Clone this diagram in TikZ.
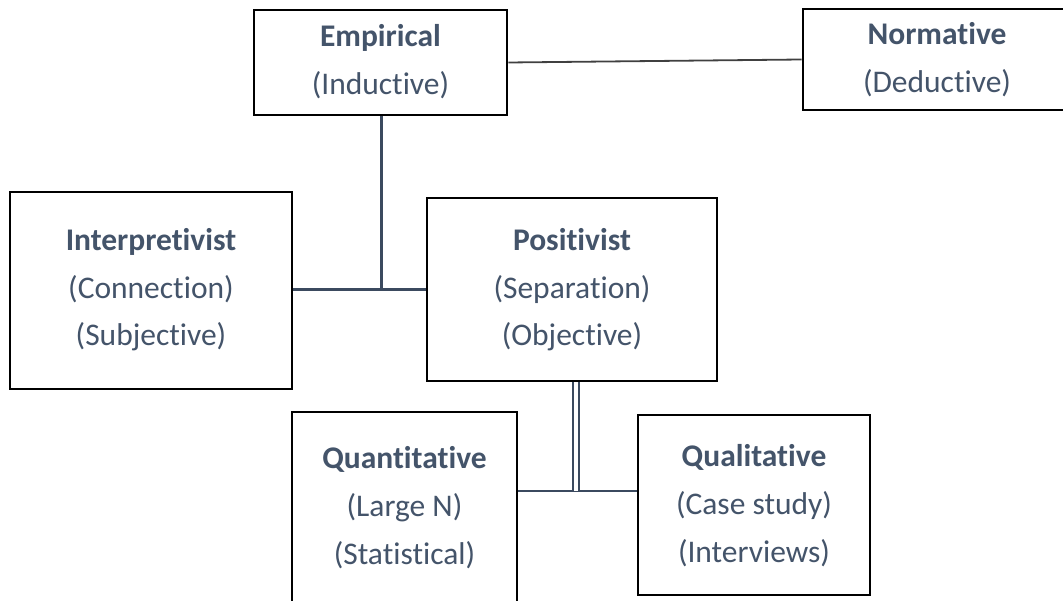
\documentclass[tikz,border=0pt]{standalone}
\usepackage{fontspec}
\setmainfont{Carlito}[Ligatures=NoCommon]
\definecolor{txt}{HTML}{44546A}
\definecolor{conn}{HTML}{3B4A5F}
\definecolor{thin}{HTML}{404040}
\begin{document}
\begin{tikzpicture}[x=1pt,y=-1pt,
  box/.style={draw=black,line width=2.8pt,fill=white,inner sep=0pt,minimum width=#1},
  hd/.style={anchor=base,text=txt,inner sep=0pt,font=\fontsize{31.5}{36}\selectfont\bfseries},
  sub/.style={anchor=base,text=txt,inner sep=0pt,font=\fontsize{31.5}{36}\selectfont},
  link/.style={draw=conn,line width=2.6pt},
  dbl/.style={draw=conn,line width=1.9pt,double=white,double distance=4.6pt}]
\useasboundingbox (0,0) rectangle (1063,601);
\clip (0,0) rectangle (1063,601);
% boxes
\node[box=253pt,minimum height=105pt] (emp) at (380.5,62.5) {};
\node[box=268pt,minimum height=101pt] (nor) at (937,59.5) {};
\node[box=282pt,minimum height=197pt] (int) at (151,290.5) {};
\node[box=290pt,minimum height=183pt] (pos) at (572,289.5) {};
\node[box=225pt,minimum height=200pt] (qua) at (404.5,512) {};
\node[box=232pt,minimum height=180pt] (qul) at (754,505) {};
% connectors
\coordinate (j1) at (381,289.5);
\coordinate (j2) at (576,491);
\draw[line width=1.8pt,draw=thin] (emp.east) -- (nor.west);
\draw[link,line width=3pt] (emp.south -| j1) -- (j1);
\draw[link,line width=2.4pt] (int.east |- j1) -- (pos.west |- j1);
\draw[link,line width=2.4pt] (qua.east |- j2) -- (qul.west |- j2);
\draw[dbl] (pos.south -| j2) -- (j2);
% texts
\node[hd] (empA) at (380.5,47) {Empirical};
\node[sub] (empB) at (380.5,95) {(Inductive)};
\node[hd] (norA) at (937,45) {Normative};
\node[sub] (norB) at (937,93) {(Deductive)};
\node[hd] (intA) at (151,251) {Interpretivist};
\node[sub] (intB) at (151,299) {(Connection)};
\node[sub] (intC) at (151,346) {(Subjective)};
\node[hd] (posA) at (572,251) {Positivist};
\node[sub] (posB) at (572,299) {(Separation)};
\node[sub] (posC) at (572,346) {(Objective)};
\node[hd] (quaA) at (404.5,468) {Quantitative};
\node[sub] (quaB) at (404.5,516) {(Large N)};
\node[sub] (quaC) at (404.5,564) {(Statistical)};
\node[hd] (qulA) at (754,466) {Qualitative};
\node[sub] (qulB) at (754,514) {(Case study)};
\node[sub] (qulC) at (754,562) {(Interviews)};
\end{tikzpicture}
\end{document}
